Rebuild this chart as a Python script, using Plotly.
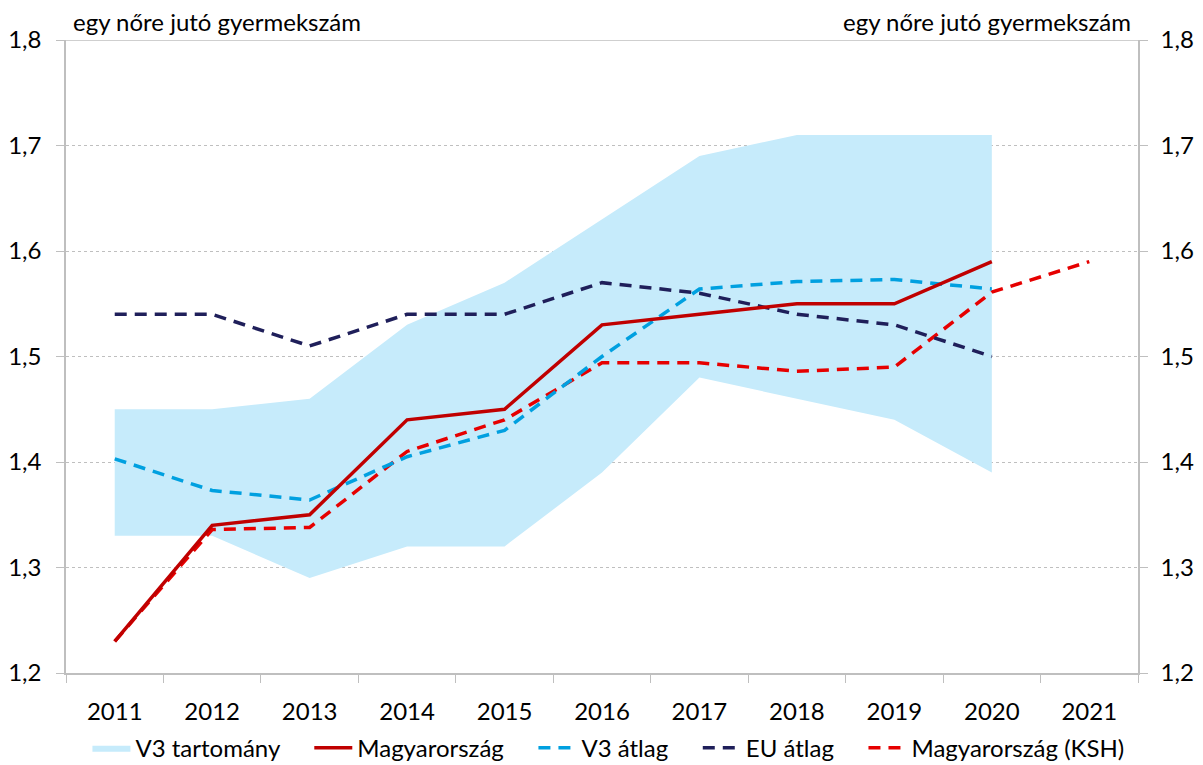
import plotly.graph_objects as go

years = ["2011", "2012", "2013", "2014", "2015", "2016", "2017", "2018", "2019", "2020", "2021"]
v3_years = years[:10]
v3_upper = [1.45, 1.45, 1.46, 1.53, 1.57, 1.63, 1.69, 1.71, 1.71, 1.71]
v3_lower = [1.33, 1.33, 1.29, 1.32, 1.32, 1.39, 1.48, 1.46, 1.44, 1.39]
hungary = [1.23, 1.34, 1.35, 1.44, 1.45, 1.53, 1.54, 1.55, 1.55, 1.59]
v3_avg = [1.403, 1.373, 1.364, 1.405, 1.43, 1.50, 1.564, 1.571, 1.573, 1.564]
eu_avg = [1.54, 1.54, 1.51, 1.54, 1.54, 1.57, 1.56, 1.54, 1.53, 1.50]
hungary_ksh = [1.23, 1.336, 1.338, 1.41, 1.44, 1.494, 1.494, 1.486, 1.49, 1.561, 1.59]
y_ticks = [1.2, 1.3, 1.4, 1.5, 1.6, 1.7, 1.8]
y_labels = ["1,2", "1,3", "1,4", "1,5", "1,6", "1,7", "1,8"]
axis_title = "egy nőre jutó gyermekszám"

FONT = "Lato"
GRAY = "#BFBFBF"
PAD = "\u00a0\u00a0\u00a0\u00a0"  # extra spacing between legend entries

fig = go.Figure()
fig.add_trace(go.Scatter(x=v3_years, y=v3_lower, mode="lines", line=dict(width=0, color="#C6EBFB"),
                         showlegend=False, hoverinfo="skip"))
fig.add_trace(go.Scatter(x=v3_years, y=v3_upper, mode="lines", line=dict(width=0, color="#C6EBFB"),
                         fill="tonexty", fillcolor="#C6EBFB", name="V3 tartomány" + PAD, legendrank=1))
fig.add_trace(go.Scatter(x=years, y=hungary_ksh, mode="lines", line=dict(color="#E60000", width=3.5, dash="12px,8px"),
                         name="Magyarország (KSH)", legendrank=5))
fig.add_trace(go.Scatter(x=v3_years, y=v3_avg, mode="lines", line=dict(color="#00A0E0", width=3.5, dash="12px,8px"),
                         name="V3 átlag" + PAD, legendrank=3))
fig.add_trace(go.Scatter(x=v3_years, y=eu_avg, mode="lines", line=dict(color="#1F1F5A", width=3.5, dash="12px,8px"),
                         name="EU átlag" + PAD, legendrank=4))
fig.add_trace(go.Scatter(x=v3_years, y=hungary, mode="lines", line=dict(color="#C00000", width=3.5),
                         name="Magyarország" + PAD, legendrank=2))

fig.add_trace(go.Scatter(x=years, y=[None]*len(years), yaxis="y2", showlegend=False, hoverinfo="skip"))

# page body has an 8px margin: shrink figure so the plot lands where it should in the window
fig.update_layout(
    width=1195, height=757,
    margin=dict(l=58, r=65, t=32, b=92, autoexpand=False),
    paper_bgcolor="white", plot_bgcolor="white",
    font=dict(family=FONT, size=24, color="#000000"),
    showlegend=True,
    legend=dict(orientation="h", x=0.506, xanchor="center", y=-0.083, yanchor="top",
                font=dict(size=24), itemwidth=38, tracegroupgap=0, traceorder="normal"),
    xaxis=dict(type="category", categoryorder="array", categoryarray=years, range=[-0.5, 10.5],
               showline=True, linecolor=GRAY, linewidth=1.5, ticks="outside", tickson="boundaries",
               ticklen=8, tickcolor=GRAY, showgrid=False, ticklabelstandoff=16, zeroline=False,
               automargin=False),
    yaxis=dict(range=[1.2, 1.8], tickvals=y_ticks, ticktext=y_labels, showline=True, linecolor=GRAY,
               linewidth=1.5, ticks="outside", ticklen=8, tickcolor=GRAY, showgrid=True,
               gridcolor=GRAY, griddash="dot", gridwidth=1, zeroline=False, ticklabelstandoff=10,
               automargin=False),
    yaxis2=dict(range=[1.2, 1.8], tickvals=y_ticks, ticktext=y_labels, overlaying="y", side="right",
                showline=True, linecolor=GRAY, linewidth=1.5, ticks="outside", ticklen=8,
                tickcolor=GRAY, showgrid=False, zeroline=False, ticklabelstandoff=8, automargin=False),
    shapes=[dict(type="line", xref="paper", yref="y", x0=-0.008, x1=1.0, y0=1.8, y1=1.8,
                 line=dict(color=GRAY, width=1.5))],
    annotations=[
        dict(text=axis_title, xref="paper", yref="paper", x=0.005, y=1.0, xanchor="left", yanchor="bottom",
             showarrow=False, font=dict(size=24), yshift=2),
        dict(text=axis_title, xref="paper", yref="paper", x=0.995, y=1.0, xanchor="right", yanchor="bottom",
             showarrow=False, font=dict(size=24), yshift=2),
    ],
)

fig.write_html("out.html")
